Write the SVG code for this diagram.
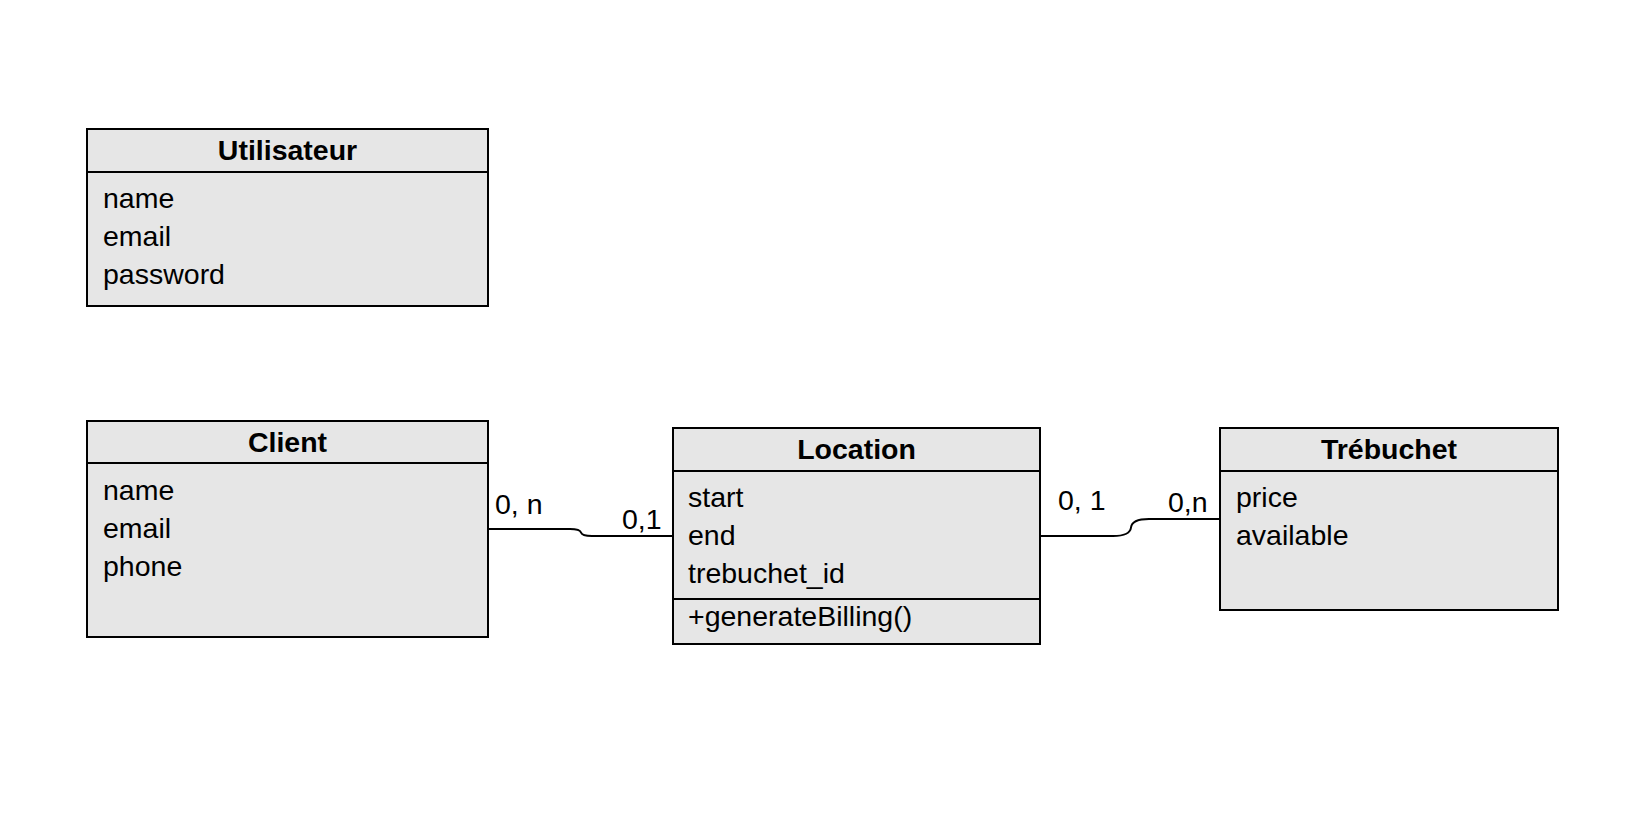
<svg xmlns="http://www.w3.org/2000/svg" width="1650" height="822" viewBox="0 0 1650 822">
<style>
.box{fill:#e6e6e6;stroke:#000;stroke-width:2}
.sep{stroke:#000;stroke-width:2;fill:none}
.title{font-family:"Liberation Sans",Arial,sans-serif;font-size:28.5px;font-weight:bold;text-anchor:middle;fill:#000}
.attr{font-family:"Liberation Sans",Arial,sans-serif;font-size:28.5px;fill:#000}
.lbl{font-family:"Liberation Sans",Arial,sans-serif;font-size:28.5px;fill:#000}
.conn{stroke:#000;stroke-width:2;fill:none}
</style>
<rect width="1650" height="822" fill="#fff"/>
<g id="utilisateur">
<rect class="box" x="87" y="129" width="401" height="177"/>
<line class="sep" x1="87" y1="172" x2="488" y2="172"/>
<text class="title" x="287.5" y="160">Utilisateur</text>
<text class="attr" x="103" y="208">name</text>
<text class="attr" x="103" y="246">email</text>
<text class="attr" x="103" y="284">password</text>
</g>
<g id="client">
<rect class="box" x="87" y="421" width="401" height="216"/>
<line class="sep" x1="87" y1="463" x2="488" y2="463"/>
<text class="title" x="287.5" y="452">Client</text>
<text class="attr" x="103" y="500">name</text>
<text class="attr" x="103" y="538">email</text>
<text class="attr" x="103" y="576">phone</text>
</g>
<g id="location">
<rect class="box" x="673" y="428" width="367" height="216"/>
<line class="sep" x1="673" y1="471" x2="1040" y2="471"/>
<line class="sep" x1="673" y1="599" x2="1040" y2="599"/>
<text class="title" x="856.5" y="459">Location</text>
<text class="attr" x="688" y="507">start</text>
<text class="attr" x="688" y="545">end</text>
<text class="attr" x="688" y="583">trebuchet_id</text>
<text class="attr" x="688" y="626">+generateBilling()</text>
</g>
<g id="trebuchet">
<rect class="box" x="1220" y="428" width="338" height="182"/>
<line class="sep" x1="1220" y1="471" x2="1558" y2="471"/>
<text class="title" x="1389" y="459">Trébuchet</text>
<text class="attr" x="1236" y="507">price</text>
<text class="attr" x="1236" y="545">available</text>
</g>
<g id="connectors">
<path class="conn" d="M488,529 H570 Q580,529 581,532.5 Q582,536 592,536 H673"/>
<text class="lbl" x="495" y="514">0, n</text>
<text class="lbl" x="622" y="529">0,1</text>
<path class="conn" d="M1040,536 H1113 Q1130,536 1131,527.5 Q1132,519 1149,519 H1220"/>
<text class="lbl" x="1058" y="510">0, 1</text>
<text class="lbl" x="1168" y="512">0,n</text>
</g>
</svg>
